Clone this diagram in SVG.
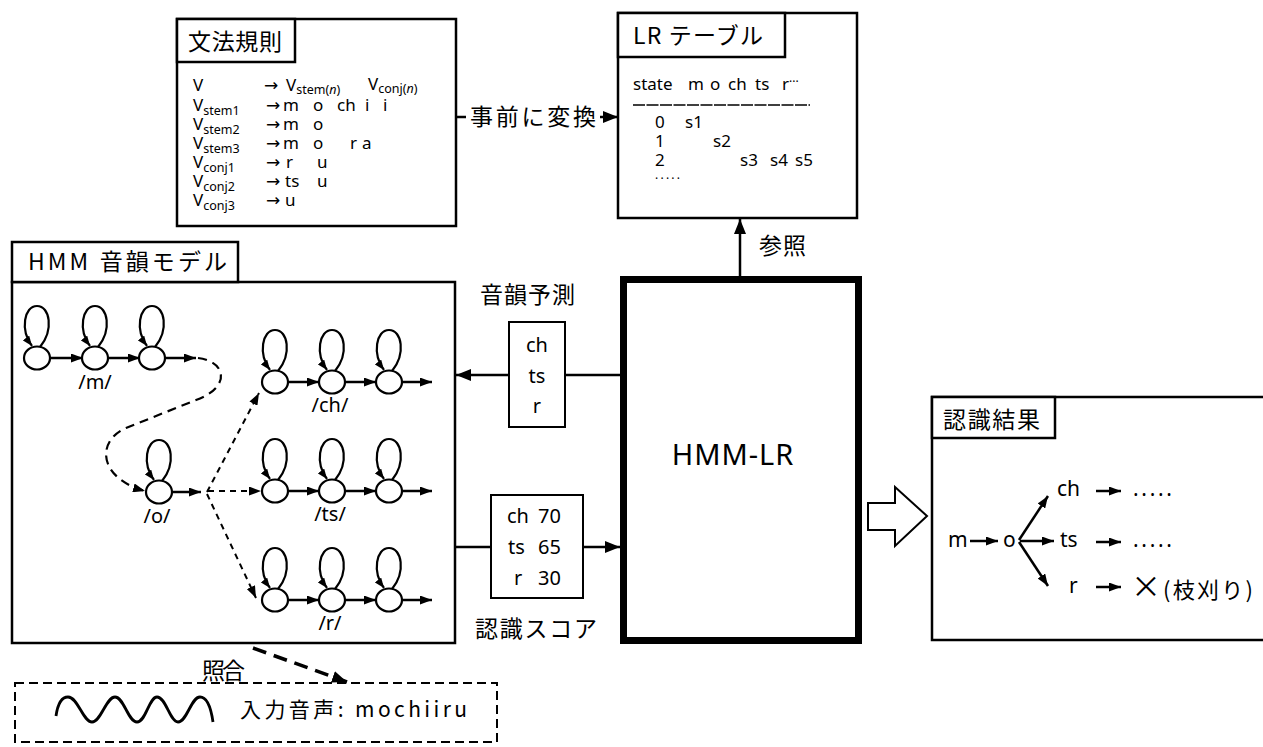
<svg xmlns="http://www.w3.org/2000/svg" width="1263" height="747" viewBox="0 0 1263 747">
  <defs>
    <style>
      text { font-family: "Noto Sans", "Noto Sans CJK JP", sans-serif; fill: #000; }
      .jp { font-family: "Noto Sans CJK JP", "Noto Sans", sans-serif; }
      .arr { font-family: "DejaVu Sans", sans-serif; }
      .box { fill: #fff; stroke: #000; stroke-width: 2.5; }
      .thin { fill: #fff; stroke: #000; stroke-width: 2; }
      .line { fill: none; stroke: #000; stroke-width: 2.5; }
      .st { fill: #fff; stroke: #000; stroke-width: 2.2; }
      .loop { fill: none; stroke: #000; stroke-width: 2.2; }
      .dash { fill: none; stroke: #000; stroke-width: 2.2; stroke-dasharray: 9 6; }
      .dash2 { fill: none; stroke: #000; stroke-width: 2; stroke-dasharray: 6 5; }
      .g { font-size: 17px; }
      .sub { font-size: 12.5px; }
      .t { font-size: 17px; }
      .lbl { font-size: 20px; }
      .cj { font-size: 23px; }
      .mid { font-size: 20px; }
      .res { font-size: 21px; }
    </style>
    <!-- filled arrowheads -->
    <marker id="ahB" viewBox="0 0 10 10" refX="10" refY="5" markerWidth="15" markerHeight="12" markerUnits="userSpaceOnUse" orient="auto" preserveAspectRatio="none">
      <path d="M0,0 L10,5 L0,10 z"/>
    </marker>
    <marker id="ahS" viewBox="0 0 10 10" refX="10" refY="5" markerWidth="12" markerHeight="9" markerUnits="userSpaceOnUse" orient="auto" preserveAspectRatio="none">
      <path d="M0,0 L10,5 L0,10 z"/>
    </marker>
    <marker id="ahL" viewBox="0 0 10 10" refX="10" refY="5" markerWidth="10" markerHeight="8" markerUnits="userSpaceOnUse" orient="auto" preserveAspectRatio="none">
      <path d="M0,0 L10,5 L0,10 z"/>
    </marker>
    <!-- one HMM state with its self-loop, centred on the origin -->
    <g id="state">
      <path class="loop" d="M3,-11 C17,-28 13,-52 0,-52 C-13,-52 -17,-28 -5,-12" marker-end="url(#ahL)"/>
      <ellipse class="st" rx="13" ry="11.5"/>
    </g>
  </defs>

  <rect width="1263" height="747" fill="#fff"/>

  <!-- grammar rules -->
  <g id="grammar">
    <rect class="box" x="177" y="19" width="279" height="207"/>
    <rect class="box" x="177" y="19" width="118" height="43"/>
    <text class="cj jp" x="188" y="50" textLength="94" lengthAdjust="spacing">文法規則</text>
    <g class="g">
      <text x="193" y="91">V</text>
      <text class="arr" x="264" y="91">→</text>
      <text x="286" y="91">V<tspan class="sub" dy="3">stem(<tspan font-style="italic">n</tspan>)</tspan></text>
      <text x="368" y="90">V<tspan class="sub" dy="3">conj(<tspan font-style="italic">n</tspan>)</tspan></text>

      <text x="193" y="111">V<tspan class="sub" dy="4">stem1</tspan></text>
      <text class="arr" x="266" y="111">→</text>
      <text y="111"><tspan x="283">m</tspan><tspan x="313">o</tspan><tspan x="337">ch</tspan><tspan x="365">i</tspan><tspan x="383">i</tspan></text>

      <text x="193" y="130">V<tspan class="sub" dy="4">stem2</tspan></text>
      <text class="arr" x="266" y="130">→</text>
      <text y="130"><tspan x="283">m</tspan><tspan x="313">o</tspan></text>

      <text x="193" y="149">V<tspan class="sub" dy="4">stem3</tspan></text>
      <text class="arr" x="266" y="149">→</text>
      <text y="149"><tspan x="283">m</tspan><tspan x="313">o</tspan><tspan x="350">r</tspan><tspan x="362">a</tspan></text>

      <text x="193" y="168">V<tspan class="sub" dy="4">conj1</tspan></text>
      <text class="arr" x="266" y="168">→</text>
      <text y="168"><tspan x="286">r</tspan><tspan x="317">u</tspan></text>

      <text x="193" y="187">V<tspan class="sub" dy="4">conj2</tspan></text>
      <text class="arr" x="266" y="187">→</text>
      <text y="187"><tspan x="285">ts</tspan><tspan x="317">u</tspan></text>

      <text x="193" y="206">V<tspan class="sub" dy="4">conj3</tspan></text>
      <text class="arr" x="266" y="206">→</text>
      <text x="285" y="206">u</text>
    </g>
  </g>

  <!-- LR parse table -->
  <g id="lr-table">
    <rect class="box" x="618" y="13" width="239" height="205"/>
    <rect class="box" x="618" y="13" width="167" height="44"/>
    <text class="cj jp" x="633" y="44" textLength="130" lengthAdjust="spacing">LR テーブル</text>
    <g class="t">
      <text y="90"><tspan x="633">state</tspan><tspan x="688">m</tspan><tspan x="710">o</tspan><tspan x="728">ch</tspan><tspan x="755">ts</tspan><tspan x="782">r</tspan><tspan x="789" font-size="12" dy="-4">···</tspan></text>
      <line x1="633" y1="105" x2="810" y2="105" stroke="#000" stroke-width="1.4" stroke-dasharray="12 1.5"/>
      <text y="128"><tspan x="655">0</tspan><tspan x="685">s1</tspan></text>
      <text y="147"><tspan x="655">1</tspan><tspan x="713">s2</tspan></text>
      <text y="166"><tspan x="655">2</tspan><tspan x="740">s3</tspan><tspan x="770">s4</tspan><tspan x="795">s5</tspan></text>
      <text x="655" y="183" font-size="12" textLength="25" lengthAdjust="spacing">·····</text>
    </g>
  </g>

  <!-- HMM phoneme models -->
  <g id="hmm-models">
    <rect class="box" x="12" y="282" width="443" height="361"/>
    <rect class="box" x="12" y="242" width="226" height="40"/>
    <text class="cj jp" x="28" y="270" textLength="199" lengthAdjust="spacing">HMM 音韻モデル</text>

    <g id="phone-m">
      <use href="#state" x="37" y="358"/>
      <use href="#state" x="95" y="358"/>
      <use href="#state" x="152" y="358"/>
      <line class="line" x1="50" y1="358" x2="83" y2="358" marker-end="url(#ahS)"/>
      <line class="line" x1="108" y1="358" x2="140" y2="358" marker-end="url(#ahS)"/>
      <line class="line" x1="165" y1="358" x2="196" y2="358" marker-end="url(#ahS)"/>
      <text class="lbl" x="95" y="389" text-anchor="middle">/m/</text>
    </g>

    <g id="phone-o">
      <use href="#state" x="159" y="492"/>
      <line class="line" x1="172" y1="492" x2="201" y2="492" marker-end="url(#ahS)"/>
      <text class="lbl" x="157" y="523" text-anchor="middle">/o/</text>
    </g>

    <g id="phone-ch">
      <use href="#state" x="275" y="382"/>
      <use href="#state" x="332" y="382"/>
      <use href="#state" x="389" y="382"/>
      <line class="line" x1="288" y1="382" x2="319" y2="382" marker-end="url(#ahS)"/>
      <line class="line" x1="345" y1="382" x2="376" y2="382" marker-end="url(#ahS)"/>
      <line class="line" x1="402" y1="382" x2="432" y2="382" marker-end="url(#ahS)"/>
      <text class="lbl" x="330" y="412" text-anchor="middle">/ch/</text>
    </g>

    <g id="phone-ts">
      <use href="#state" x="275" y="491"/>
      <use href="#state" x="332" y="491"/>
      <use href="#state" x="389" y="491"/>
      <line class="line" x1="288" y1="491" x2="319" y2="491" marker-end="url(#ahS)"/>
      <line class="line" x1="345" y1="491" x2="376" y2="491" marker-end="url(#ahS)"/>
      <line class="line" x1="402" y1="491" x2="432" y2="491" marker-end="url(#ahS)"/>
      <text class="lbl" x="330" y="521" text-anchor="middle">/ts/</text>
    </g>

    <g id="phone-r">
      <use href="#state" x="275" y="600"/>
      <use href="#state" x="332" y="600"/>
      <use href="#state" x="389" y="600"/>
      <line class="line" x1="288" y1="600" x2="319" y2="600" marker-end="url(#ahS)"/>
      <line class="line" x1="345" y1="600" x2="376" y2="600" marker-end="url(#ahS)"/>
      <line class="line" x1="402" y1="600" x2="432" y2="600" marker-end="url(#ahS)"/>
      <text class="lbl" x="330" y="630" text-anchor="middle">/r/</text>
    </g>

    <!-- phoneme-to-phoneme links -->
    <g id="model-links">
      <path class="dash" d="M198,358 C228,362 230,388 196,400 L126,428 C96,441 98,478 145,491" marker-end="url(#ahS)"/>
      <path class="dash2" d="M207,492 L259,393" marker-end="url(#ahS)"/>
      <path class="dash2" d="M208,491 L261,491" marker-end="url(#ahS)"/>
      <path class="dash2" d="M207,494 L256,598" marker-end="url(#ahS)"/>
    </g>
  </g>

  <!-- predicted phonemes -->
  <g id="prediction">
    <rect class="thin" x="509" y="322" width="56" height="105"/>
    <text class="mid" x="537" y="352" text-anchor="middle">ch</text>
    <text class="mid" x="537" y="383" text-anchor="middle">ts</text>
    <text class="mid" x="537" y="413" text-anchor="middle">r</text>
    <text class="cj jp" x="480" y="303" textLength="95" lengthAdjust="spacing">音韻予測</text>
  </g>

  <!-- recognition scores -->
  <g id="scores">
    <rect class="thin" x="491" y="495" width="92" height="103"/>
    <text class="mid" y="523"><tspan x="507">ch</tspan><tspan x="538">70</tspan></text>
    <text class="mid" y="554"><tspan x="508">ts</tspan><tspan x="538">65</tspan></text>
    <text class="mid" y="585"><tspan x="514">r</tspan><tspan x="538">30</tspan></text>
    <text class="cj jp" x="475" y="637" textLength="122" lengthAdjust="spacing">認識スコア</text>
  </g>

  <!-- HMM-LR engine -->
  <g id="hmm-lr">
    <rect x="623.5" y="279.5" width="235" height="361" fill="#fff" stroke="#000" stroke-width="7"/>
    <text x="733" y="465" font-size="29" text-anchor="middle" letter-spacing="1">HMM-LR</text>
  </g>

  <!-- recognition result -->
  <g id="result">
    <rect class="box" x="932" y="397" width="340" height="243"/>
    <rect class="box" x="932" y="397" width="123" height="41"/>
    <text class="cj jp" x="943" y="428" textLength="97" lengthAdjust="spacing">認識結果</text>
    <g class="res">
      <text x="948" y="547">m</text>
      <text x="1003" y="547">o</text>
      <text x="1057" y="496">ch</text>
      <text x="1060" y="547">ts</text>
      <text x="1069" y="593">r</text>
      <text x="1133" y="496" textLength="39" lengthAdjust="spacing">.....</text>
      <text x="1133" y="547" textLength="39" lengthAdjust="spacing">.....</text>
      <text class="jp" x="1146" y="597" font-size="30" text-anchor="middle">×</text>
      <text class="jp" x="1163" y="598" font-size="22" textLength="90" lengthAdjust="spacing">(枝刈り)</text>
    </g>
    <g class="res-links">
      <line class="line" x1="970" y1="541" x2="998" y2="541" marker-end="url(#ahS)"/>
      <line class="line" x1="1019" y1="540" x2="1048" y2="496" marker-end="url(#ahS)"/>
      <line class="line" x1="1020" y1="541" x2="1054" y2="541" marker-end="url(#ahS)"/>
      <line class="line" x1="1019" y1="542" x2="1048" y2="586" marker-end="url(#ahS)"/>
      <line class="line" x1="1096" y1="491" x2="1121" y2="491" marker-end="url(#ahS)"/>
      <line class="line" x1="1096" y1="542" x2="1121" y2="542" marker-end="url(#ahS)"/>
      <line class="line" x1="1096" y1="587" x2="1121" y2="587" marker-end="url(#ahS)"/>
    </g>
  </g>

  <!-- speech input -->
  <g id="speech-input">
    <rect x="15" y="683" width="482" height="59" fill="none" stroke="#000" stroke-width="2" stroke-dasharray="9 5"/>
    <path d="M56,716 C58,702 62,697 68,697 C78,697 83,722 92,722 C101,722 106,697 115,697 C124,697 128,722 137,722 C146,722 149,697 157,697 C166,697 170,722 178,722 C187,722 191,697 200,697 C209,697 212,715 213,722" fill="none" stroke="#000" stroke-width="2.8"/>
    <text class="jp" x="240" y="717" font-size="21" textLength="227" lengthAdjust="spacing">入力音声: mochiiru</text>
  </g>

  <!-- connectors between blocks -->
  <g id="connectors">
    <path class="line" d="M457,117 H466 M600,117 H618" marker-end="url(#ahB)"/>
    <text class="cj jp" x="470" y="125" textLength="126" lengthAdjust="spacing">事前に変換</text>

    <line class="line" x1="740" y1="276" x2="740" y2="219" marker-end="url(#ahB)"/>
    <text class="cj jp" x="759" y="254" textLength="47" lengthAdjust="spacing">参照</text>

    <path class="line" d="M620,375 H565 M509,375 H456" marker-end="url(#ahB)"/>
    <path class="line" d="M455,547 H491 M583,547 H620" marker-end="url(#ahB)"/>

    <polygon points="868,503 895,503 895,487 927,516 895,546 895,530 868,530" fill="#fff" stroke="#000" stroke-width="2"/>

    <line x1="253" y1="648" x2="347" y2="682" stroke="#000" stroke-width="3.5" stroke-dasharray="14 8" marker-end="url(#ahB)"/>
    <text class="cj jp" x="202" y="679" font-size="22" textLength="43" lengthAdjust="spacing">照合</text>
  </g>
</svg>
